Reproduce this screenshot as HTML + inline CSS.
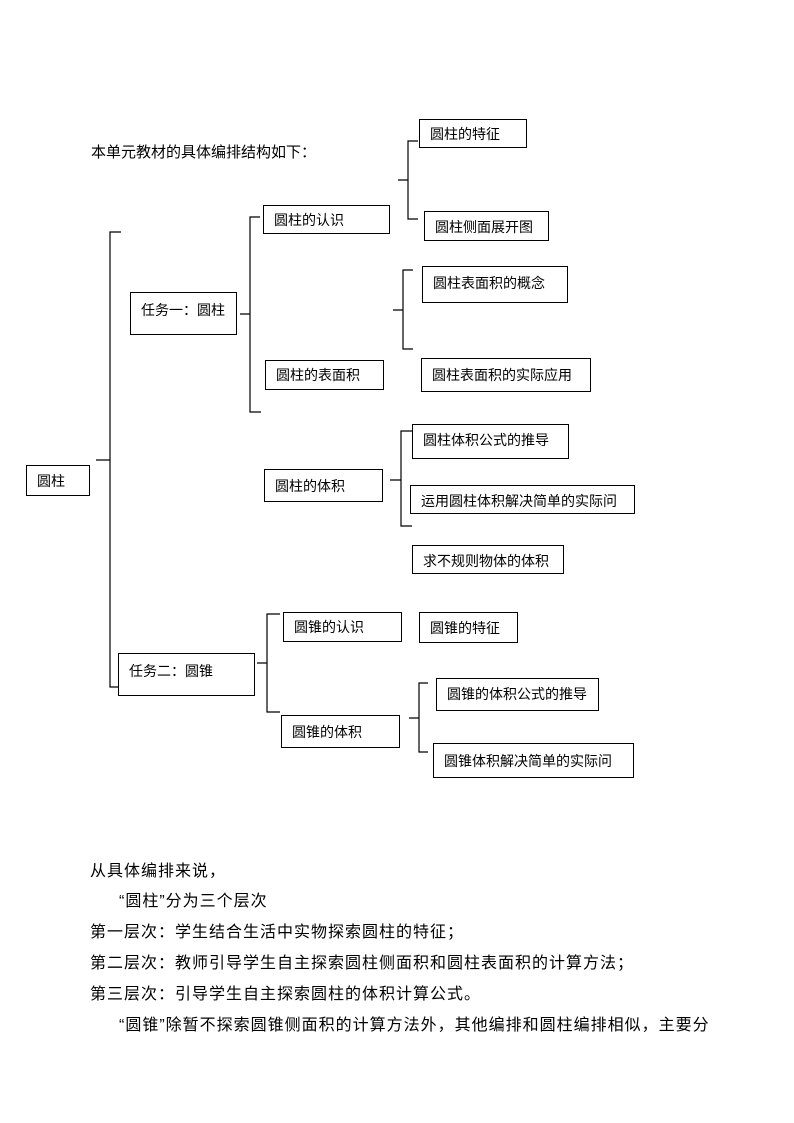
<!DOCTYPE html>
<html><head><meta charset="utf-8"><style>
body{margin:0;background:#fff;}
#p{position:relative;width:794px;height:1123px;overflow:hidden;font-family:"Liberation Sans","Noto Sans CJK SC",sans-serif;color:#000;}
.b{position:absolute;border:1px solid #000;box-sizing:border-box;font-size:14px;line-height:1;padding-left:10px;padding-top:7px;white-space:nowrap;background:#fff;}
.t{position:absolute;font-size:15px;white-space:nowrap;line-height:1;}
.q{letter-spacing:1px;}
svg{position:absolute;left:0;top:0;}
</style></head><body><div id="p">
<svg width="794" height="1123" fill="none" stroke="#000" stroke-width="1.2">
<path d="M121 232 H110 V687 H122 M110 460 H96"/>
<path d="M260 217 H250 V412 H261 M250 314 H240"/>
<path d="M418 141 H408 V219 H418 M408 180 H398"/>
<path d="M413 270 H403 V349 H413 M403 310 H393"/>
<path d="M412 431 H401 V526 H412 M401 480 H390"/>
<path d="M280 614 H267 V712 H280 M267 663 H257"/>
<path d="M428 683 H419 V752 H428 M419 718 H409"/>
</svg>
<div class="t" style="left:91px;top:145px;">本单元教材的具体编排结构如下：</div>
<div class="b" style="left:419px;top:119px;width:108px;height:29px;">圆柱的特征</div>
<div class="b" style="left:424px;top:211px;width:125px;height:30px;padding-top:8px;">圆柱侧面展开图</div>
<div class="b" style="left:263px;top:205px;width:127px;height:29px;">圆柱的认识</div>
<div class="b" style="left:130px;top:292px;width:107px;height:43px;padding-top:10px;">任务一：圆柱</div>
<div class="b" style="left:422px;top:266px;width:146px;height:37px;padding-top:9px;">圆柱表面积的概念</div>
<div class="b" style="left:265px;top:360px;width:119px;height:30px;">圆柱的表面积</div>
<div class="b" style="left:421px;top:358px;width:170px;height:34px;padding-top:9px;">圆柱表面积的实际应用</div>
<div class="b" style="left:412px;top:424px;width:157px;height:35px;padding-top:8px;">圆柱体积公式的推导</div>
<div class="b" style="left:264px;top:469px;width:119px;height:33px;padding-top:9px;">圆柱的体积</div>
<div class="b" style="left:410px;top:485px;width:225px;height:29px;padding-top:8px;">运用圆柱体积解决简单的实际问</div>
<div class="b" style="left:412px;top:545px;width:152px;height:29px;padding-top:8px;">求不规则物体的体积</div>
<div class="b" style="left:26px;top:465px;width:64px;height:31px;padding-top:8px;">圆柱</div>
<div class="b" style="left:283px;top:612px;width:119px;height:30px;">圆锥的认识</div>
<div class="b" style="left:419px;top:612px;width:99px;height:31px;padding-top:8px;">圆锥的特征</div>
<div class="b" style="left:118px;top:653px;width:137px;height:43px;padding-top:10px;">任务二：圆锥</div>
<div class="b" style="left:281px;top:715px;width:119px;height:33px;padding-top:9px;">圆锥的体积</div>
<div class="b" style="left:436px;top:678px;width:163px;height:33px;padding-top:8px;">圆锥的体积公式的推导</div>
<div class="b" style="left:433px;top:743px;width:201px;height:35px;padding-top:10px;">圆锥体积解决简单的实际问</div>
<div class="t q" style="left:90px;top:864px;font-size:16px;">从具体编排来说，</div>
<div class="t q" style="left:119px;top:894px;font-size:16px;">“圆柱”分为三个层次</div>
<div class="t q" style="left:90px;top:925px;font-size:16px;">第一层次：学生结合生活中实物探索圆柱的特征；</div>
<div class="t q" style="left:90px;top:956px;font-size:16px;">第二层次：教师引导学生自主探索圆柱侧面积和圆柱表面积的计算方法；</div>
<div class="t q" style="left:90px;top:987px;font-size:16px;">第三层次：引导学生自主探索圆柱的体积计算公式。</div>
<div class="t q" style="left:119px;top:1018px;font-size:16px;">“圆锥”除暂不探索圆锥侧面积的计算方法外，其他编排和圆柱编排相似，主要分</div>
</div></body></html>
